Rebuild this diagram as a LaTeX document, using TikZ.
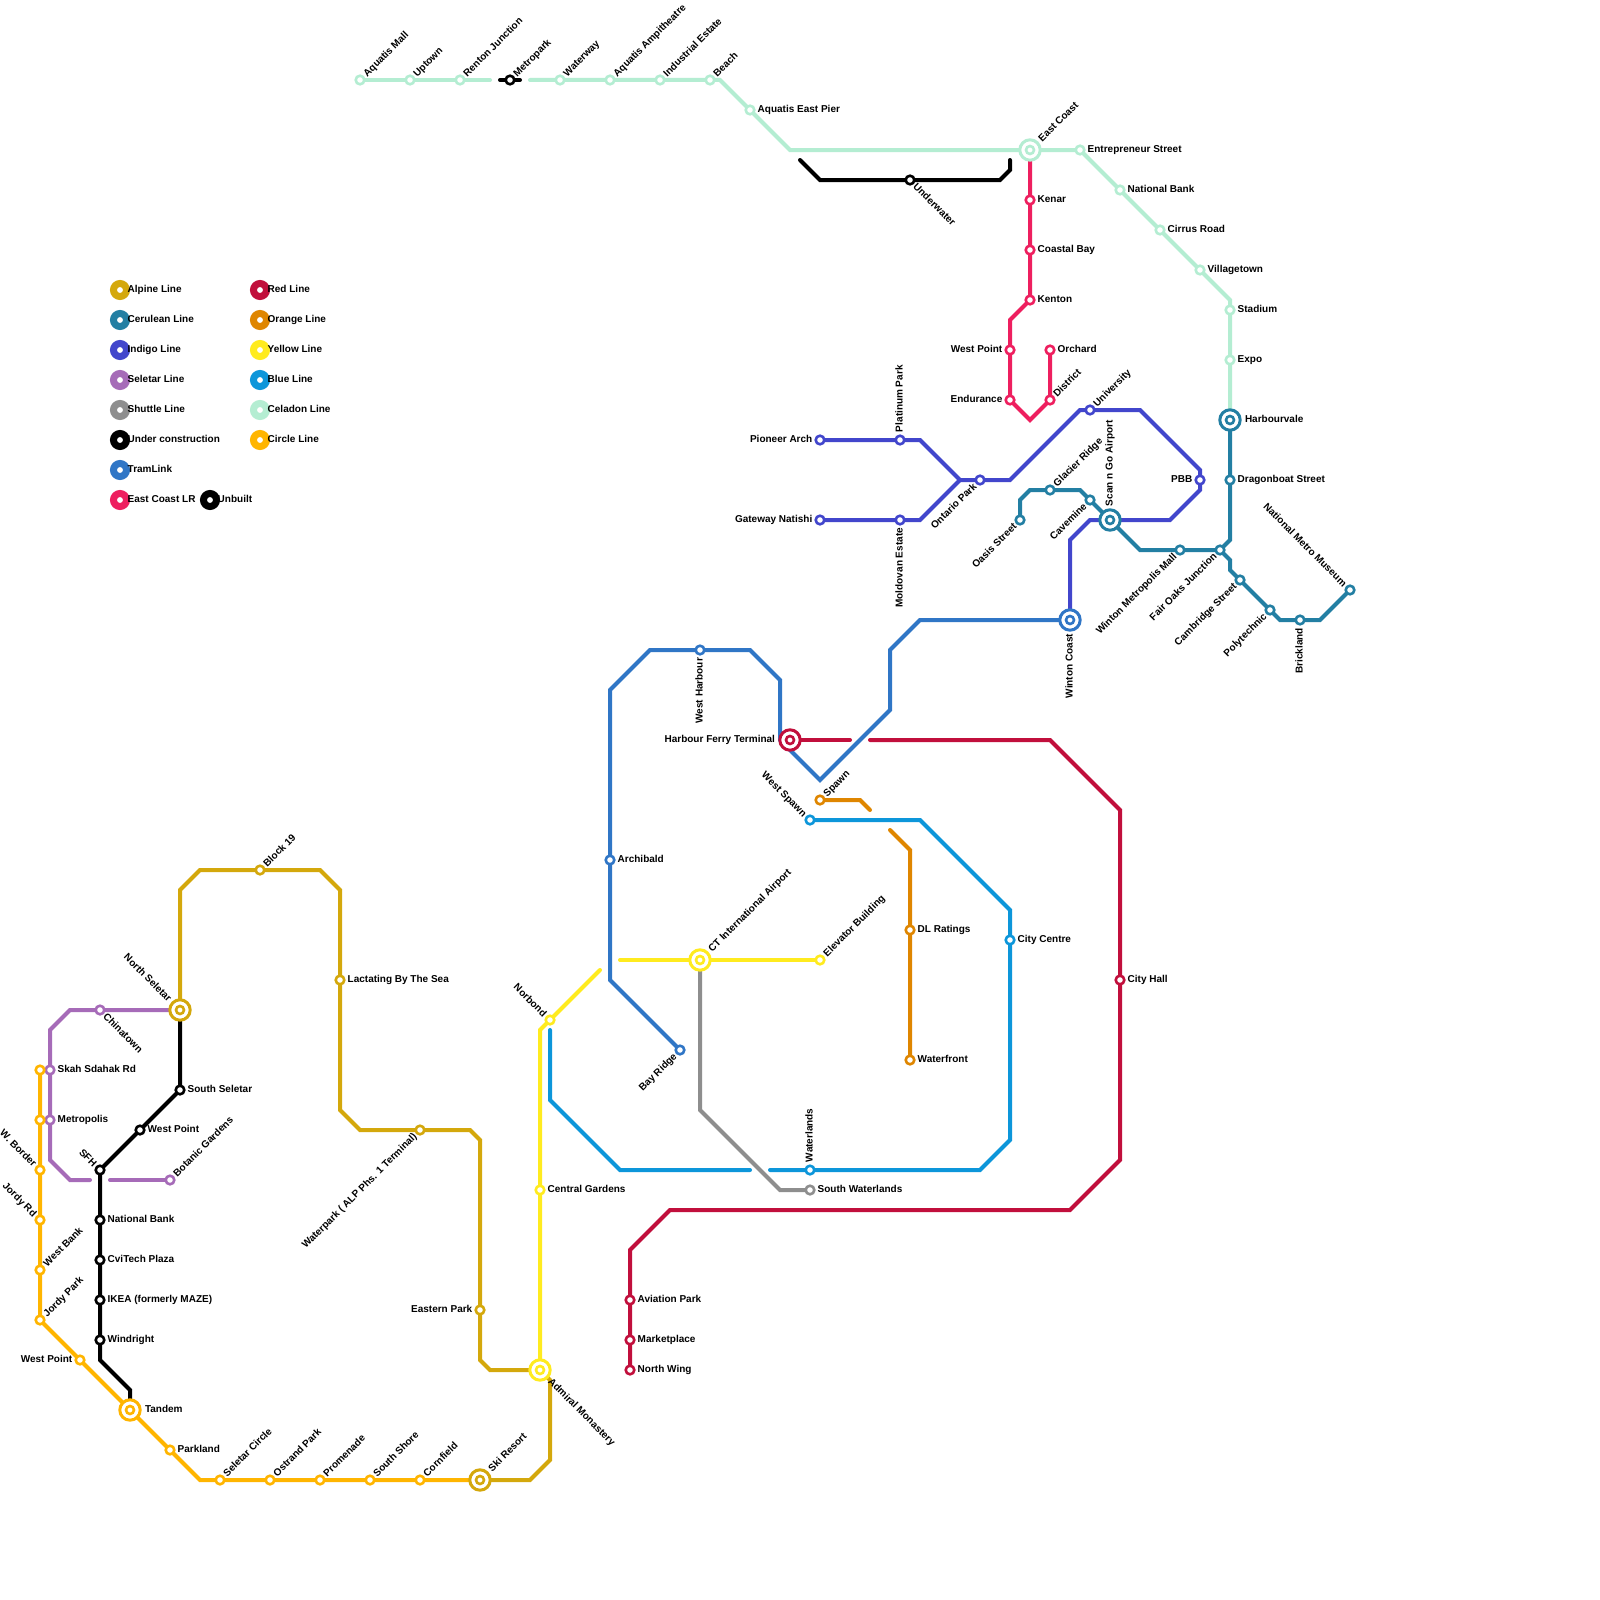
\documentclass[tikz,border=0pt]{standalone}
\usepackage{fontspec}
\setmainfont{Liberation Sans}
\pgfdeclarelayer{bg}
\pgfsetlayers{bg,main}
\definecolor{alp}{HTML}{D4A80C}
\definecolor{cer}{HTML}{237FA3}
\definecolor{ind}{HTML}{4246CC}
\definecolor{sel}{HTML}{A66BB8}
\definecolor{shu}{HTML}{8E8E8E}
\definecolor{ucn}{HTML}{000000}
\definecolor{trm}{HTML}{3076C6}
\definecolor{ecl}{HTML}{EE1F5F}
\definecolor{red}{HTML}{C10F3C}
\definecolor{org}{HTML}{DF8600}
\definecolor{yel}{HTML}{FFEB1F}
\definecolor{blu}{HTML}{0D96DA}
\definecolor{cel}{HTML}{B4EDD2}
\definecolor{cir}{HTML}{FFB500}
\tikzset{
  ln/.style={line width=4pt,line cap=round,line join=miter},
  stn/.style={circle,fill=white,line width=2.6pt,inner sep=0pt,outer sep=0pt,minimum size=8.6pt},
  xin/.style={circle,fill=white,line width=2.6pt,inner sep=0pt,outer sep=0pt,minimum size=8pt},
  xch/.style={circle,fill=white,line width=3pt,inner sep=0pt,outer sep=0pt,minimum size=20.4pt},
  lab/.style={font=\bfseries\fontsize{10}{12}\selectfont,text=black,inner sep=0pt,outer sep=0pt,text height=7.2pt,text depth=2pt},
  key/.style={circle,fill=white,line width=7pt,inner sep=0pt,outer sep=0pt,minimum size=13pt}
}
% station and interchange
\newcommand{\st}[3]{\node[stn,draw=#3] (#1) at (#2) {};}
\newcommand{\xc}[3]{\node[xch,draw=#3] (#1) at (#2) {};\node[xin,draw=#3] (#1-in) at (#2) {};}
% labels
\newcommand{\lE}[3][7.7]{\node[lab,anchor=west] (t-#2) at ([shift={(#1,0)}]#2.center) {#3};}
\newcommand{\lW}[3][7.7]{\node[lab,anchor=east] (t-#2) at ([shift={(-#1,0)}]#2.center) {#3};}
\newcommand{\lN}[3][8]{\node[lab,anchor=west,rotate=90] (t-#2) at ([shift={(0,-#1)}]#2.center) {#3};}
\newcommand{\lS}[3][8]{\node[lab,anchor=east,rotate=90] (t-#2) at ([shift={(0,#1)}]#2.center) {#3};}
\newcommand{\lNE}[3][5]{\node[lab,anchor=west,rotate=45] (t-#2) at ([shift={(#1+0.5,-#1+0.5)}]#2.center) {#3};}
\newcommand{\lSE}[3][5]{\node[lab,anchor=west,rotate=-45] (t-#2) at ([shift={(#1-0.5,#1+0.5)}]#2.center) {#3};}
\newcommand{\lSW}[3][5]{\node[lab,anchor=east,rotate=45] (t-#2) at ([shift={(-#1+0.5,#1+0.5)}]#2.center) {#3};}
\newcommand{\lNW}[3][5]{\node[lab,anchor=east,rotate=-45] (t-#2) at ([shift={(-#1-0.5,-#1+0.5)}]#2.center) {#3};}
\newcommand{\kk}[4]{\node[key,draw=#3] (#1) at (#2) {};\node[lab,anchor=west] (t-#1) at ([shift={(7.7,0)}]#1.center) {#4};}
\begin{document}
\begin{tikzpicture}[x=1pt,y=-1pt]
\useasboundingbox (0,0) rectangle (1600,1600);
% ---- legend
\kk{ka}{120,290}{alp}{Alpine Line}
\kk{kb}{120,320}{cer}{Cerulean Line}
\kk{kc}{120,350}{ind}{Indigo Line}
\kk{kd}{120,380}{sel}{Seletar Line}
\kk{ke}{120,410}{shu}{Shuttle Line}
\kk{kf}{120,440}{ucn}{Under construction}
\kk{kg}{120,470}{trm}{TramLink}
\kk{kh}{120,500}{ecl}{East Coast LR}
\kk{ki}{210,500}{ucn}{Unbuilt}
\kk{kj}{260,290}{red}{Red Line}
\kk{kk}{260,320}{org}{Orange Line}
\kk{kl}{260,350}{yel}{Yellow Line}
\kk{km}{260,380}{blu}{Blue Line}
\kk{kn}{260,410}{cel}{Celadon Line}
\kk{ko}{260,440}{cir}{Circle Line}
% ---- celadon
\st{aqm}{360,80}{cel}\lNE{aqm}{Aquatis Mall}
\st{upt}{410,80}{cel}\lNE{upt}{Uptown}
\st{ren}{460,80}{cel}\lNE{ren}{Renton Junction}
\st{mep}{510,80}{ucn}\lNE{mep}{Metropark}
\st{wwy}{560,80}{cel}\lNE{wwy}{Waterway}
\st{aqa}{610,80}{cel}\lNE{aqa}{Aquatis Ampitheatre}
\st{ind}{660,80}{cel}\lNE{ind}{Industrial Estate}
\st{bch}{710,80}{cel}\lNE{bch}{Beach}
\st{aep}{750,110}{cel}\lE{aep}{Aquatis East Pier}
\xc{eco}{1030,150}{cel}\lNE[10]{eco}{East Coast}
\st{ent}{1080,150}{cel}\lE{ent}{Entrepreneur Street}
\st{nab}{1120,190}{cel}\lE{nab}{National Bank}
\st{cir}{1160,230}{cel}\lE{cir}{Cirrus Road}
\st{vil}{1200,270}{cel}\lE{vil}{Villagetown}
\st{sta}{1230,310}{cel}\lE{sta}{Stadium}
\st{exp}{1230,360}{cel}\lE{exp}{Expo}
\xc{hbv}{1230,420}{cer}\lE[15]{hbv}{Harbourvale}
% ---- under construction top
\st{und}{910,180}{ucn}\lSE{und}{Underwater}
% ---- east coast LR
\st{ken}{1030,200}{ecl}\lE{ken}{Kenar}
\st{cob}{1030,250}{ecl}\lE{cob}{Coastal Bay}
\st{ktn}{1030,300}{ecl}\lE{ktn}{Kenton}
\st{wpt}{1010,350}{ecl}\lW{wpt}{West Point}
\st{end}{1010,400}{ecl}\lW{end}{Endurance}
\st{orc}{1050,350}{ecl}\lE{orc}{Orchard}
\st{dis}{1050,400}{ecl}\lNE{dis}{District}
% ---- indigo
\st{pio}{820,440}{ind}\lW{pio}{Pioneer Arch}
\st{pla}{900,440}{ind}\lN{pla}{Platinum Park}
\st{gat}{820,520}{ind}\lW{gat}{Gateway Natishi}
\st{mol}{900,520}{ind}\lS{mol}{Moldovan Estate}
\st{ont}{980,480}{ind}\lSW{ont}{Ontario Park}
\st{uni}{1090,410}{ind}\lNE{uni}{University}
\st{pbb}{1200,480}{ind}\lW{pbb}{PBB}
\xc{scn}{1110,520}{cer}\lN[14]{scn}{Scan n Go Airport}
\xc{wco}{1070,620}{trm}\lS[14]{wco}{Winton Coast}
% ---- cerulean
\st{oas}{1020,520}{cer}\lSW{oas}{Oasis Street}
\st{gla}{1050,490}{cer}\lNE{gla}{Glacier Ridge}
\st{cav}{1090,500}{cer}\lSW{cav}{Cavemine}
\st{wmm}{1180,550}{cer}\lSW{wmm}{Winton Metropolis Mall}
\st{foj}{1220,550}{cer}\lSW{foj}{Fair Oaks Junction}
\st{dra}{1230,480}{cer}\lE{dra}{Dragonboat Street}
\st{cam}{1240,580}{cer}\lSW{cam}{Cambridge Street}
\st{pol}{1270,610}{cer}\lSW{pol}{Polytechnic}
\st{bri}{1300,620}{cer}\lS{bri}{Brickland}
\st{nmm}{1350,590}{cer}\lNW{nmm}{National Metro Museum}
% ---- tram
\st{wha}{700,650}{trm}\lS{wha}{West Harbour}
\st{arc}{610,860}{trm}\lE{arc}{Archibald}
\st{bay}{680,1050}{trm}\lSW{bay}{Bay Ridge}
% ---- red
\xc{hft}{790,740}{red}\lW[15]{hft}{Harbour Ferry Terminal}
\st{cth}{1120,980}{red}\lE{cth}{City Hall}
\st{avi}{630,1300}{red}\lE{avi}{Aviation Park}
\st{mkt}{630,1340}{red}\lE{mkt}{Marketplace}
\st{nwi}{630,1370}{red}\lE{nwi}{North Wing}
% ---- orange
\st{spa}{820,800}{org}\lNE{spa}{Spawn}
\st{dlr}{910,930}{org}\lE{dlr}{DL Ratings}
\st{wfr}{910,1060}{org}\lE{wfr}{Waterfront}
% ---- blue
\st{wsp}{810,820}{blu}\lNW{wsp}{West Spawn}
\st{cce}{1010,940}{blu}\lE{cce}{City Centre}
\st{wat}{810,1170}{blu}\lN{wat}{Waterlands}
% ---- yellow
\xc{cta}{700,960}{yel}\lNE[10]{cta}{CT International Airport}
\st{ele}{820,960}{yel}\lNE{ele}{Elevator Building}
\st{nor}{550,1020}{yel}\lNW{nor}{Norbond}
\st{cgd}{540,1190}{yel}\lE{cgd}{Central Gardens}
\xc{adm}{540,1370}{yel}\lSE[10]{adm}{Admiral Monastery}
% ---- shuttle
\st{swt}{810,1190}{shu}\lE{swt}{South Waterlands}
% ---- alpine
\xc{nse}{180,1010}{alp}\lNW[10]{nse}{North Seletar}
\st{blk}{260,870}{alp}\lNE{blk}{Block 19}
\st{lac}{340,980}{alp}\lE{lac}{Lactating By The Sea}
\st{wpk}{420,1130}{alp}\lSW{wpk}{Waterpark ( ALP Phs. 1 Terminal)}
\st{eas}{480,1310}{alp}\lW{eas}{Eastern Park}
\xc{ski}{480,1480}{alp}\lNE[10]{ski}{Ski Resort}
% ---- seletar
\st{chi}{100,1010}{sel}\lSE{chi}{Chinatown}
\st{ska}{50,1070}{sel}\lE{ska}{Skah Sdahak Rd}
\st{met}{50,1120}{sel}\lE{met}{Metropolis}
\st{bot}{170,1180}{sel}\lNE{bot}{Botanic Gardens}
% ---- under construction west
\st{sse}{180,1090}{ucn}\lE{sse}{South Seletar}
\st{wpo}{140,1130}{ucn}\lE{wpo}{West Point}
\st{sfh}{100,1170}{ucn}\lNW{sfh}{SFH}
\st{nbk}{100,1220}{ucn}\lE{nbk}{National Bank}
\st{cvi}{100,1260}{ucn}\lE{cvi}{CviTech Plaza}
\st{ike}{100,1300}{ucn}\lE{ike}{IKEA (formerly MAZE)}
\st{win}{100,1340}{ucn}\lE{win}{Windright}
% ---- circle
\st{ca}{40,1070}{cir}
\st{cb}{40,1120}{cir}
\st{wbo}{40,1170}{cir}\lNW{wbo}{W. Border}
\st{jrd}{40,1220}{cir}\lNW{jrd}{Jordy Rd}
\st{wbk}{40,1270}{cir}\lNE{wbk}{West Bank}
\st{jpk}{40,1320}{cir}\lNE{jpk}{Jordy Park}
\st{wpc}{80,1360}{cir}\lW{wpc}{West Point}
\xc{tan}{130,1410}{cir}\lE[15]{tan}{Tandem}
\st{par}{170,1450}{cir}\lE{par}{Parkland}
\st{scc}{220,1480}{cir}\lNE{scc}{Seletar Circle}
\st{ost}{270,1480}{cir}\lNE{ost}{Ostrand Park}
\st{pro}{320,1480}{cir}\lNE{pro}{Promenade}
\st{ssh}{370,1480}{cir}\lNE{ssh}{South Shore}
\st{cor}{420,1480}{cir}\lNE{cor}{Cornfield}
% ---- free ends of the lines
\coordinate (celA) at (490,80);
\coordinate (celB) at (530,80);
\coordinate (mepA) at (500,80);
\coordinate (mepB) at (520,80);
\coordinate (ucA) at (800,160);
\coordinate (ucB) at (1010,160);
\coordinate (selA) at (90,1180);
\coordinate (selB) at (110,1180);
\coordinate (redA) at (850,740);
\coordinate (redB) at (870,740);
\coordinate (orgA) at (870,810);
\coordinate (orgB) at (890,830);
\coordinate (bluA) at (750,1170);
\coordinate (bluB) at (770,1170);
\coordinate (bluC) at (550,1030);
\coordinate (yelA) at (620,960);
\coordinate (yelB) at (600,970);
\begin{pgfonlayer}{bg}
\fill[white] (0,0) rectangle (1600,1600);
\draw[ln,sel] (bot.center) -- (selB);
\draw[ln,sel] (selA) -- (70,1180) -- (50,1160) -- (met.center) -- (ska.center) -- (50,1030) -- (70,1010) -- (chi.center) -- (nse.center);
\draw[ln,alp] (nse.center) -- (180,890) -- (200,870) -- (blk.center) -- (320,870) -- (340,890) -- (lac.center) -- (340,1110) -- (360,1130) -- (wpk.center) -- (470,1130) -- (480,1140) -- (eas.center) -- (480,1360) -- (490,1370) -- (adm.center) -- (550,1380) -- (550,1460) -- (530,1480) -- (ski.center);
\draw[ln,ucn] (nse.center) -- (sse.center) -- (wpo.center) -- (sfh.center) -- (nbk.center) -- (cvi.center) -- (ike.center) -- (win.center) -- (100,1360) -- (130,1390) -- (tan.center);
\draw[ln,cir] (ca.center) -- (cb.center) -- (wbo.center) -- (jrd.center) -- (wbk.center) -- (jpk.center) -- (wpc.center) -- (tan.center) -- (par.center) -- (200,1480) -- (scc.center) -- (ost.center) -- (pro.center) -- (ssh.center) -- (cor.center) -- (ski.center);
\draw[ln,cel] (aqm.center) -- (upt.center) -- (ren.center) -- (celA);
\draw[ln,ucn] (mepA) -- (mepB);
\draw[ln,cel] (celB) -- (wwy.center) -- (aqa.center) -- (ind.center) -- (bch.center) -- (720,80) -- (aep.center) -- (790,150) -- (eco.center) -- (ent.center) -- (nab.center) -- (cir.center) -- (vil.center) -- (1230,300) -- (sta.center) -- (exp.center) -- (hbv.center);
\draw[ln,ucn] (ucA) -- (820,180) -- (und.center) -- (1000,180) -- (1010,170) -- (ucB);
\draw[ln,ecl] (eco.center) -- (ken.center) -- (cob.center) -- (ktn.center) -- (1010,320) -- (wpt.center) -- (end.center) -- (1030,420) -- (dis.center) -- (orc.center);
\draw[ln,ind] (pio.center) -- (pla.center) -- (920,440) -- (960,480) -- (ont.center) -- (1010,480) -- (1080,410) -- (uni.center) -- (1140,410) -- (1200,470) -- (pbb.center) -- (1200,490) -- (1170,520) -- (scn.center) -- (1090,520) -- (1070,540) -- (wco.center);
\draw[ln,ind] (gat.center) -- (mol.center) -- (920,520) -- (960,480);
\draw[ln,cer] (oas.center) -- (1020,500) -- (1030,490) -- (gla.center) -- (1080,490) -- (cav.center) -- (scn.center) -- (1140,550) -- (wmm.center) -- (foj.center) -- (1230,540) -- (dra.center) -- (hbv.center);
\draw[ln,cer] (foj.center) -- (1230,560) -- (1230,570) -- (cam.center) -- (pol.center) -- (1280,620) -- (bri.center) -- (1320,620) -- (nmm.center);
\draw[ln,trm] (wco.center) -- (920,620) -- (890,650) -- (890,710) -- (820,780) -- (780,740) -- (780,680) -- (750,650) -- (wha.center) -- (650,650) -- (610,690) -- (arc.center) -- (610,980) -- (bay.center);
\draw[ln,red] (hft.center) -- (redA);
\draw[ln,red] (redB) -- (1050,740) -- (1120,810) -- (cth.center) -- (1120,1160) -- (1070,1210) -- (670,1210) -- (630,1250) -- (avi.center) -- (mkt.center) -- (nwi.center);
\draw[ln,org] (spa.center) -- (860,800) -- (orgA);
\draw[ln,org] (orgB) -- (910,850) -- (dlr.center) -- (wfr.center);
\draw[ln,blu] (wsp.center) -- (920,820) -- (1010,910) -- (cce.center) -- (1010,1140) -- (980,1170) -- (wat.center) -- (bluB);
\draw[ln,blu] (bluA) -- (620,1170) -- (550,1100) -- (bluC);
\draw[ln,shu] (cta.center) -- (700,1110) -- (780,1190) -- (swt.center);
\draw[ln,yel] (yelA) -- (cta.center) -- (ele.center);
\draw[ln,yel] (yelB) -- (nor.center) -- (540,1030) -- (cgd.center) -- (adm.center);
\end{pgfonlayer}
\end{tikzpicture}
\end{document}
